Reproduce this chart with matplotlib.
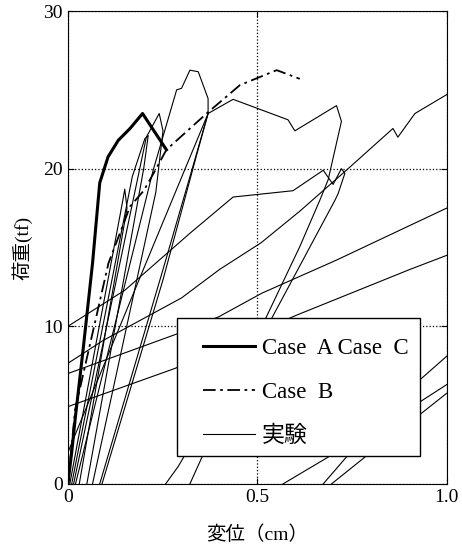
import matplotlib
matplotlib.use('Agg')
import matplotlib.pyplot as plt
from matplotlib.patches import Rectangle

plt.rcParams['font.family'] = ['Liberation Serif', 'Noto Sans CJK JP']

# 解析結果
case_ac_x = [0.0, 0.01, 0.02, 0.04, 0.065, 0.084, 0.106, 0.133, 0.164, 0.197, 0.26]
case_ac_y = [0.0, 2.0, 4.3, 8.5, 14.0, 19.1, 20.75, 21.8, 22.55, 23.5, 21.2]

case_b_x = [0.0, 0.019, 0.107, 0.134, 0.164, 0.2, 0.226, 0.26, 0.366, 0.454, 0.551, 0.612]
case_b_y = [0.0, 4.7, 14.0, 15.7, 17.6, 18.6, 19.7, 21.2, 23.5, 25.3, 26.25, 25.7]

# 実験 (履歴曲線の各区間)
exp_curves = [
    ([0.005, 0.145, 0.150, 0.156, 0.03], [0, 18.0, 18.7, 17.5, 0]),
    ([0.01, 0.17, 0.203, 0.212, 0.200, 0.05], [0, 19.5, 21.9, 22.1, 20.0, 0]),
    ([0.015, 0.207, 0.241, 0.251, 0.232, 0.065], [0, 22.0, 23.5, 22.4, 18.5, 0]),
    ([0.02, 0.225, 0.287, 0.30, 0.322, 0.344, 0.37, 0.37, 0.339, 0.251, 0.09],
     [0, 19.9, 25.0, 25.1, 26.25, 26.15, 24.45, 23.5, 20.8, 12.95, 0]),
    ([0.084, 0.251, 0.327, 0.37, 0.436, 0.581, 0.599, 0.709, 0.722, 0.687, 0.665, 0.612, 0.524, 0.291, 0.258],
     [0, 13.6, 19.9, 23.5, 24.4, 23.1, 22.4, 24.0, 23.0, 19.3, 18.0, 15.05, 10.6, 1.1, 0]),
    ([0.0, 0.151, 0.322, 0.436, 0.594, 0.674, 0.70, 0.722, 0.731, 0.713, 0.705, 0.54, 0.353, 0.322],
     [10.0, 12.3, 15.9, 18.2, 18.6, 19.9, 19.0, 20.0, 19.7, 18.4, 18.0, 10.6, 1.65, 0]),
    ([0.0, 0.199, 0.37], [2.0, 13.6, 23.5]),
    ([0.0, 0.093, 0.30, 0.40, 0.51, 0.612, 0.735, 0.858, 0.871, 0.916, 1.0],
     [7.65, 9.1, 11.8, 13.6, 15.3, 17.3, 19.9, 22.55, 22.0, 23.5, 24.7]),
    ([0.0, 0.292, 0.398, 0.512, 0.709, 1.0], [7.0, 9.55, 10.6, 12.1, 14.2, 17.5]),
    ([0.0, 0.283, 0.603, 0.902, 1.0], [4.9, 7.33, 10.7, 13.6, 14.5]),
    ([0.568, 0.687, 0.929, 1.0], [0, 1.7, 6.6, 8.1]),
    ([0.674, 0.735, 0.929, 1.0], [0, 1.7, 5.2, 6.3]),
    ([0.696, 0.784, 0.929, 1.0], [0, 1.7, 4.4, 5.75]),
]

fig = plt.figure(figsize=(4.62, 5.53), dpi=100)
ax = fig.add_axes([0.147, 0.125, 0.820, 0.855])

for i, (xs, ys) in enumerate(exp_curves):
    ax.plot(xs, ys, color='black', lw=0.8, label='実験' if i == 0 else None, zorder=2)

ax.plot(case_ac_x, case_ac_y, color='black', lw=2.2, label='Case  A Case  C', zorder=3)
ax.plot(case_b_x, case_b_y, color='black', lw=1.3, linestyle=(0, (7, 2.5, 1.5, 2.5)),
        label='Case  B', zorder=3)

ax.set_xlim(0, 1.0)
ax.set_ylim(0, 30)
ax.set_xticks([0, 0.5, 1.0])
ax.set_xticklabels(['0', '0.5', '1.0'])
ax.set_yticks([0, 10, 20, 30])
ax.tick_params(direction='in', labelsize=14, length=4, top=True, right=True)
ax.grid(True, linestyle=':', color='black', lw=0.9)

ax.set_xlabel('変位（cm）', fontsize=14, labelpad=14)
ax.set_ylabel('荷重(tf)', fontsize=14, labelpad=8)

# 凡例の枠
ax.add_patch(Rectangle((0.288, 0.059), 0.641, 0.292, transform=ax.transAxes,
                       facecolor='white', edgecolor='black', lw=1.0, zorder=4))

handles, labels = ax.get_legend_handles_labels()
order = [1, 2, 0]
leg = ax.legend([handles[k] for k in order], [labels[k] for k in order],
                loc='upper left', bbox_to_anchor=(0.356, 0.308),
                borderaxespad=0, borderpad=0, frameon=False, fontsize=16.5,
                handlelength=2.27, labelspacing=0.98, handletextpad=0.3)
leg.set_zorder(5)

fig.savefig('out.png', dpi=100)
